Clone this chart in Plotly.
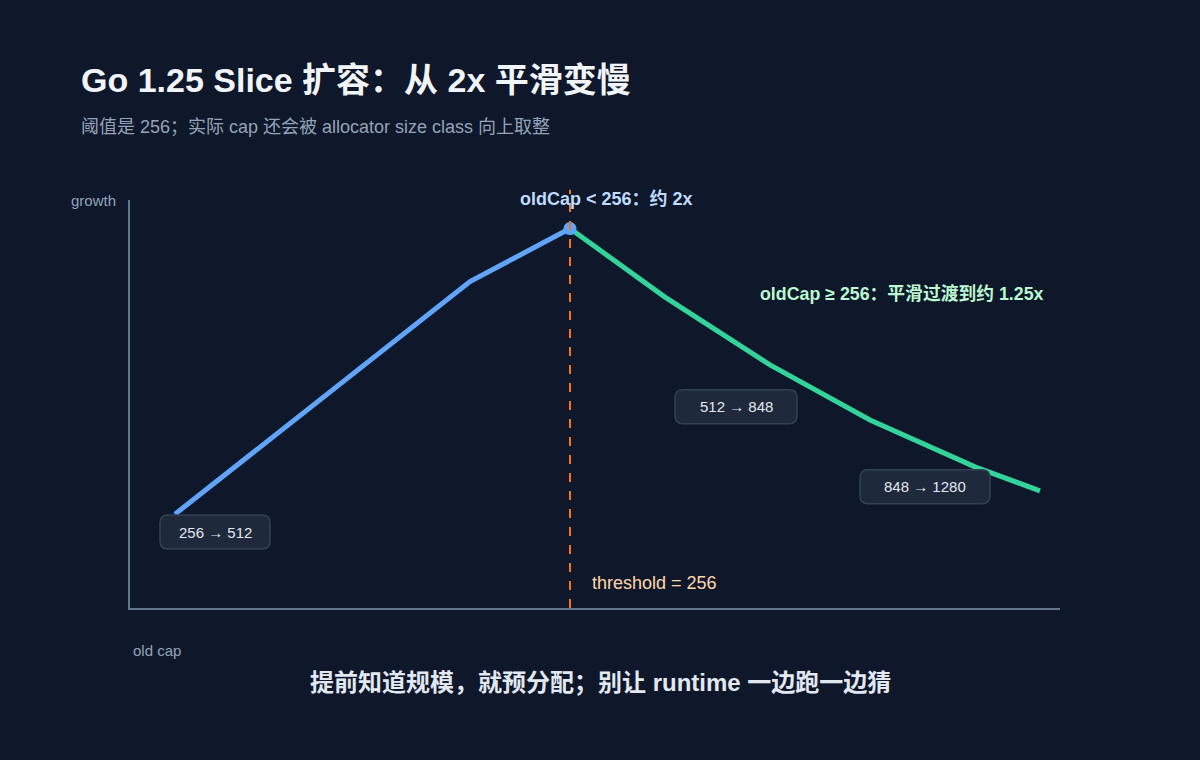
import plotly.graph_objects as go

# ---- data (illustrative positions) ----
blue_x = [0.45, 3.4, 4.4]
blue_y = [0.23, 0.80, 0.93]
green_x = [4.4, 5.35, 6.4, 7.4, 8.45, 9.1]
green_y = [0.93, 0.762, 0.596, 0.461, 0.346, 0.287]
threshold_x = 4.4
peak_x, peak_y = 4.4, 0.93
box_labels = ["256 → 512", "512 → 848", "848 → 1280"]
box_x = [0.85, 6.06, 7.95]
box_y = [0.186, 0.493, 0.297]
box_w = [110, 122, 130]

BG = "#0f172a"
FONT = "Liberation Sans, Arial, Noto Sans CJK SC, sans-serif"


def rounded_rect(w, h, r):
    x0, x1, y0, y1 = -w / 2, w / 2, -h / 2, h / 2
    return (f"M {x0 + r},{y0} L {x1 - r},{y0} Q {x1},{y0} {x1},{y0 + r} "
            f"L {x1},{y1 - r} Q {x1},{y1} {x1 - r},{y1} L {x0 + r},{y1} "
            f"Q {x0},{y1} {x0},{y1 - r} L {x0},{y0 + r} Q {x0},{y0} {x0 + r},{y0} Z")


fig = go.Figure()
fig.add_trace(go.Scatter(x=blue_x, y=blue_y, mode="lines",
                         line=dict(color="#60a5fa", width=5), hoverinfo="skip"))
fig.add_trace(go.Scatter(x=green_x, y=green_y, mode="lines",
                         line=dict(color="#34d399", width=5), hoverinfo="skip"))
fig.add_trace(go.Scatter(x=[peak_x], y=[peak_y], mode="markers",
                         marker=dict(color="#60a5fa", size=13), hoverinfo="skip"))

fig.add_shape(type="line", xref="x", yref="paper", x0=threshold_x, x1=threshold_x,
              y0=0, y1=1.025, line=dict(color="#f97316", width=2, dash="dash"),
              layer="above")

for x, y, w in zip(box_x, box_y, box_w):
    fig.add_shape(type="path", xref="x", yref="y", xsizemode="pixel", ysizemode="pixel",
                  xanchor=x, yanchor=y, path=rounded_rect(w, 34, 8),
                  fillcolor="#1e293b", line=dict(color="#334155", width=1.5),
                  layer="above")

ann = []
for t, x, y in zip(box_labels, box_x, box_y):
    ann.append(dict(x=x, y=y, xref="x", yref="y", text=t, showarrow=False,
                    yanchor="middle",
                    font=dict(family=FONT, size=15, color="#e2e8f0")))


def pann(px, py, text, size, color, xanchor="left"):
    return dict(x=(px - 130) / 930, y=(608 - py) / 408, xref="paper", yref="paper",
                xanchor=xanchor, yanchor="middle", text=text, showarrow=False,
                font=dict(family=FONT, size=size, color=color))


ann += [
    pann(606, 199, "<b>oldCap < 256：约 2x</b>", 18, "#bfdbfe", "center"),
    pann(1046, 294, "<b>oldCap ≥ 256：平滑过渡到约 1.25x</b>", 17.8, "#bbf7d0", "right"),
    pann(590, 583, "threshold = 256", 18, "#fed7aa"),
    pann(69, 200, "growth", 15, "#94a3b8"),
    pann(131, 650, "old cap", 15, "#94a3b8"),
    pann(79, 80, "<b>Go 1.25 Slice 扩容：从 2x 平滑变慢</b>", 34, "#f1f5f9"),
    pann(79, 127, "阈值是 256；实际 cap 还会被 allocator size class 向上取整", 18, "#94a3b8"),
    pann(600, 682, "<b>提前知道规模，就预分配；别让 runtime 一边跑一边猜</b>", 24, "#e2e8f0", "center"),
]

fig.update_layout(
    width=1200, height=760,
    paper_bgcolor=BG, plot_bgcolor=BG,
    margin=dict(l=130, r=140, t=200, b=152),
    showlegend=False,
    annotations=ann,
    xaxis=dict(range=[0, 9.3], showgrid=False, zeroline=False, showticklabels=False,
               showline=True, linecolor="#64748b", linewidth=2, fixedrange=True),
    yaxis=dict(range=[0, 1], showgrid=False, zeroline=False, showticklabels=False,
               showline=True, linecolor="#64748b", linewidth=2, fixedrange=True),
)

fig.write_html("out.html", config={"displayModeBar": False})
